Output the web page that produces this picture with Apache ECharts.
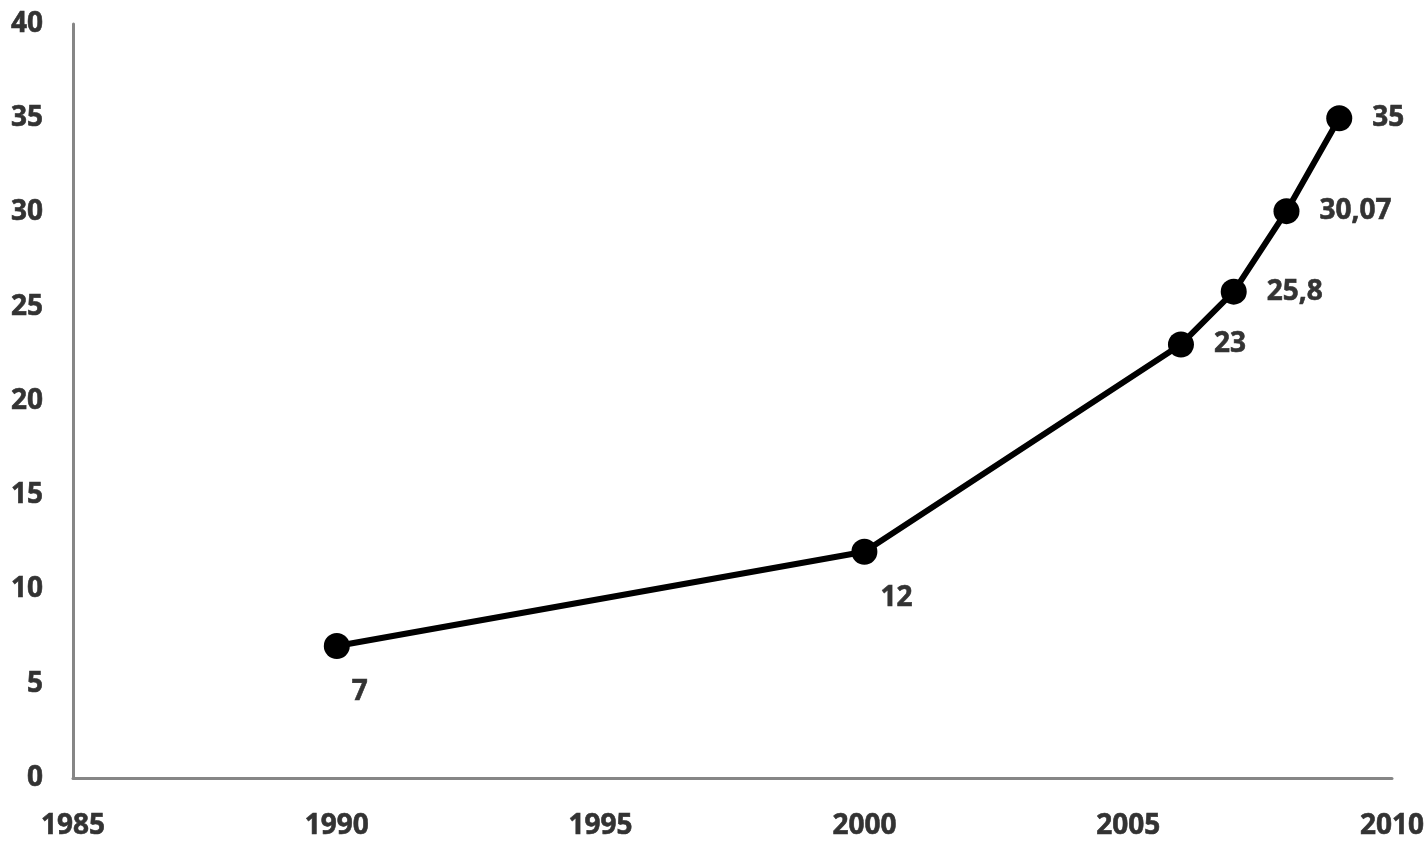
<!DOCTYPE html>
<html>
<head>
<meta charset="utf-8">
<script src="https://cdn.jsdelivr.net/npm/echarts@6/dist/echarts.min.js"></script>
<style>html,body{margin:0;padding:0;background:#fff}#c{width:1428px;height:848px}</style>
</head>
<body>
<div id="c"></div>
<script>
var years = [1990, 2000, 2006, 2007, 2008, 2009];
var values = [7, 12, 23, 25.8, 30.07, 35];
var valueLabels = ['7', '12', '23', '25,8', '30,07', '35'];
var xTicks = [1985, 1990, 1995, 2000, 2005, 2010];
var yTicks = [0, 5, 10, 15, 20, 25, 30, 35, 40];

var labelFont = {fontFamily: '"Open Sans", Lato, sans-serif', fontWeight: 'bold', fontSize: 28, color: '#333333', textBorderColor: '#333333', textBorderWidth: 0.6};
var data = years.map(function (y, i) {
  var below = i < 2;
  return {
    value: [y, values[i]],
    label: below ? {position: 'bottom', offset: [i === 0 ? 23 : 32, 14]} : {position: 'right', distance: 20}
  };
});

var chart = echarts.init(document.getElementById('c'));
chart.setOption({
  animation: false,
  grid: {left: 73, right: 36, top: 24, bottom: 70, containLabel: false},
  xAxis: {
    type: 'value', min: 1985, max: 2010, interval: 5,
    axisLine: {show: true, lineStyle: {color: '#868686', width: 3}},
    axisTick: {show: false},
    splitLine: {show: false},
    axisLabel: Object.assign({margin: 34, formatter: function (v) { return xTicks.indexOf(v) >= 0 ? String(v) : ''; }}, labelFont)
  },
  yAxis: {
    type: 'value', min: 0, max: 40, interval: 5,
    axisLine: {show: true, lineStyle: {color: '#868686', width: 3}},
    axisTick: {show: false},
    splitLine: {show: false},
    axisLabel: Object.assign({margin: 30, formatter: function (v) { return yTicks.indexOf(v) >= 0 ? String(v) : ''; }}, labelFont)
  },
  series: [{
    type: 'line',
    data: data,
    symbol: 'circle',
    symbolSize: 26,
    lineStyle: {color: '#000', width: 6},
    itemStyle: {color: '#000'},
    label: Object.assign({show: true, formatter: function (p) { return valueLabels[p.dataIndex]; }}, labelFont)
  }]
});
</script>
</body>
</html>
